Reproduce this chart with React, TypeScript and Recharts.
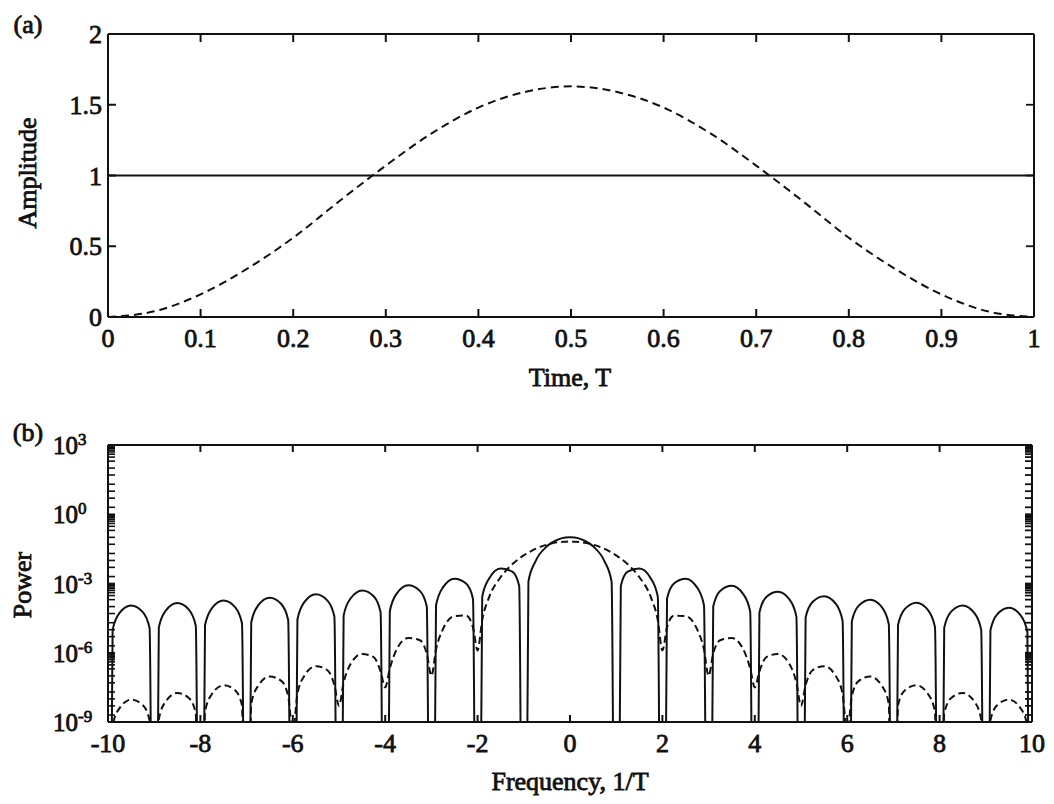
import { Line, LineChart, XAxis, YAxis } from "recharts";

// (a) window shapes over one period T
const timeT = [
  0, 0.05, 0.1, 0.15, 0.2, 0.25, 0.3, 0.35, 0.4, 0.45, 0.5, 0.55, 0.6, 0.65, 0.7,
  0.75, 0.8, 0.85, 0.9, 0.95, 1,
];
const rectAmp = [1, 1, 1, 1, 1, 1, 1, 1, 1, 1, 1, 1, 1, 1, 1, 1, 1, 1, 1, 1, 1];
const hannAmp = [
  0, 0.04, 0.16, 0.34, 0.56, 0.82, 1.07, 1.3, 1.48, 1.59, 1.63, 1.59, 1.48, 1.3,
  1.07, 0.82, 0.56, 0.34, 0.16, 0.04, 0,
];
const timeTicks = [0, 0.1, 0.2, 0.3, 0.4, 0.5, 0.6, 0.7, 0.8, 0.9, 1];
const ampTicks = [0, 0.5, 1, 1.5, 2];

// (b) power spectra, stored as powers of ten (-30 = spectral null, far below the axis)
const freq = [
  -10, -9.9, -9.75, -9.5, -9.25, -9.1,
  -9, -8.9, -8.75, -8.5, -8.25, -8.1,
  -8, -7.9, -7.75, -7.5, -7.25, -7.1,
  -7, -6.9, -6.75, -6.5, -6.25, -6.1,
  -6, -5.9, -5.75, -5.5, -5.25, -5.1,
  -5, -4.9, -4.75, -4.5, -4.25, -4.1,
  -4, -3.9, -3.75, -3.5, -3.25, -3.1,
  -3, -2.9, -2.75, -2.5, -2.25, -2.1,
  -2, -1.9, -1.75, -1.5, -1.25, -1.1,
  -1, -0.9, -0.75, -0.5, -0.25, -0.1,
  0, 0.1, 0.25, 0.5, 0.75, 0.9,
  1, 1.1, 1.25, 1.5, 1.75, 1.9,
  2, 2.1, 2.25, 2.5, 2.75, 2.9,
  3, 3.1, 3.25, 3.5, 3.75, 3.9,
  4, 4.1, 4.25, 4.5, 4.75, 4.9,
  5, 5.1, 5.25, 5.5, 5.75, 5.9,
  6, 6.1, 6.25, 6.5, 6.75, 6.9,
  7, 7.1, 7.25, 7.5, 7.75, 7.9,
  8, 8.1, 8.25, 8.5, 8.75, 8.9,
  9, 9.1, 9.25, 9.5, 9.75, 9.9,
  10,
];
const rectPowerExp = [
  -30, -5.01, -4.27, -3.95, -4.23, -4.93,
  -30, -4.91, -4.18, -3.85, -4.13, -4.83,
  -30, -4.81, -4.07, -3.74, -4.02, -4.72,
  -30, -4.69, -3.95, -3.62, -3.89, -4.58,
  -30, -4.56, -3.81, -3.47, -3.74, -4.43,
  -30, -4.39, -3.65, -3.3, -3.55, -4.24,
  -30, -4.2, -3.44, -3.08, -3.32, -4.0,
  -30, -3.94, -3.17, -2.79, -3.0, -3.66,
  -30, -3.57, -2.78, -2.35, -2.49, -3.1,
  -30, -2.92, -2.05, -1.39, -1.09, -1.01,
  -1.0, -1.01, -1.09, -1.39, -2.05, -2.92,
  -30, -3.1, -2.49, -2.35, -2.78, -3.57,
  -30, -3.66, -3.0, -2.79, -3.17, -3.94,
  -30, -4.0, -3.32, -3.1, -3.46, -4.22,
  -30, -4.26, -3.58, -3.36, -3.69, -4.43,
  -30, -4.47, -3.8, -3.55, -3.87, -4.62,
  -30, -4.64, -3.96, -3.7, -4.02, -4.76,
  -30, -4.8, -4.1, -3.83, -4.15, -4.89,
  -30, -4.92, -4.22, -3.95, -4.27, -5.0,
  -30, -5.03, -4.33, -4.05, -4.37, -5.1,
  -30,
];
const hannPowerExp = [
  -30, -9.16, -8.4, -8.03, -8.26, -8.93,
  -30, -8.88, -8.11, -7.74, -7.96, -8.63,
  -30, -8.56, -7.79, -7.41, -7.62, -8.28,
  -30, -8.21, -7.43, -7.03, -7.22, -7.88,
  -9.5, -7.79, -7.0, -6.58, -6.76, -7.4,
  -8.3, -7.29, -6.49, -6.05, -6.19, -6.81,
  -7.5, -6.68, -5.85, -5.36, -5.46, -6.04,
  -7.0, -5.86, -4.98, -4.41, -4.39, -4.9,
  -5.9, -4.58, -3.59, -2.72, -2.17, -1.92,
  -1.78, -1.66, -1.5, -1.32, -1.21, -1.19,
  -1.18, -1.19, -1.21, -1.32, -1.5, -1.66,
  -1.78, -1.92, -2.17, -2.72, -3.59, -4.58,
  -5.9, -4.9, -4.39, -4.41, -4.98, -5.86,
  -7.0, -6.04, -5.46, -5.36, -5.85, -6.68,
  -7.5, -6.81, -6.19, -6.05, -6.49, -7.29,
  -8.3, -7.4, -6.76, -6.58, -7.0, -7.79,
  -9.5, -7.88, -7.22, -7.03, -7.43, -8.21,
  -30, -8.28, -7.62, -7.41, -7.79, -8.56,
  -30, -8.63, -7.96, -7.74, -8.11, -8.88,
  -30, -8.93, -8.26, -8.03, -8.4, -9.16,
  -30,
];
const freqTicks = [-10, -8, -6, -4, -2, 0, 2, 4, 6, 8, 10];
const powerLabelExp = [3, 0, -3, -6, -9];

const timeRows = timeT.map((t, i) => ({ t, rect: rectAmp[i], hann: hannAmp[i] }));
const freqRows = freq.map((f, i) => ({ f, rect: rectPowerExp[i], hann: hannPowerExp[i] }));

// log-axis tick marks: every decade, 2x and 5x, plus a full set of minor ticks
// under each labelled decade
const powerTicks: number[] = [];
for (let d = -9; d <= 3; d++) {
  powerTicks.push(d);
  if (d < 3) powerTicks.push(d + Math.log10(2), d + Math.log10(5));
}
powerLabelExp.forEach((e) => {
  if (e > -9) [3, 4, 6, 7, 8, 9].forEach((m) => powerTicks.push(e - 1 + Math.log10(m)));
});
powerTicks.sort((a, b) => a - b);

const serif = "'Liberation Serif', 'Times New Roman', Times, serif";
const ink = "#111";
const textStyle = { fontFamily: serif, fontSize: 26, fill: ink, stroke: ink, strokeWidth: 0.8 };
const frame = { stroke: ink, strokeWidth: 2 };

const bottomTick = (len: number) => (p: any) => (
  <g>
    <line x1={p.x} y1={p.y - 1} x2={p.x} y2={p.y - len} stroke={ink} strokeWidth={2} />
    <text x={p.x} y={p.y + 30} textAnchor="middle" {...textStyle}>
      {String(p.payload.value)}
    </text>
  </g>
);
const topTick = (len: number) => (p: any) => (
  <line x1={p.x} y1={p.y} x2={p.x} y2={p.y + len} stroke={ink} strokeWidth={2} />
);
const rightTick = (len: number) => (p: any) => (
  <line x1={p.x} y1={p.y} x2={p.x - len} y2={p.y} stroke={ink} strokeWidth={1.8} />
);
const ampTick = (p: any) => (
  <g>
    <line x1={p.x} y1={p.y} x2={p.x + 8} y2={p.y} stroke={ink} strokeWidth={2} />
    <text x={p.x - 6} y={p.y + 9} textAnchor="end" {...textStyle}>
      {String(p.payload.value)}
    </text>
  </g>
);
const powerTick = (p: any) => {
  const v = p.payload.value;
  const lab = powerLabelExp.find((e) => Math.abs(e - v) < 1e-6);
  return (
    <g>
      <line x1={p.x} y1={p.y} x2={p.x + 7} y2={p.y} stroke={ink} strokeWidth={1.6} />
      {lab !== undefined && (
        <text x={53} y={p.y + 9} textAnchor="start" {...textStyle} fontSize={25}>
          10
          <tspan fontSize={17} dy={-9}>
            {String(lab)}
          </tspan>
        </text>
      )}
    </g>
  );
};

function Caption({ x, y, text, rotate }: { x: number; y: number; text: string; rotate?: boolean }) {
  return (
    <div
      style={{
        position: "absolute",
        left: x,
        top: y,
        transform: `translate(-50%, -50%)${rotate ? " rotate(-90deg)" : ""}`,
        fontFamily: serif,
        fontSize: 26,
        color: ink,
        WebkitTextStroke: "0.8px #111",
        whiteSpace: "nowrap",
        lineHeight: 1,
      }}
    >
      {text}
    </div>
  );
}

const axisBits = {
  tickSize: 0,
  tickMargin: 0,
  tickLine: false,
  axisLine: frame,
  interval: 0 as const,
  type: "number" as const,
  allowDataOverflow: true,
};

export default function App() {
  return (
    <div style={{ position: "absolute", left: 0, top: 0, width: 1054, height: 804, background: "#fff" }}>
      <div style={{ position: "absolute", left: 0, top: 0 }}>
        <LineChart width={1054} height={400} data={timeRows} margin={{ top: 33, right: 19, bottom: 82, left: 107 }}>
          <XAxis dataKey="t" domain={[0, 1]} ticks={timeTicks} height={1} tick={bottomTick(8)} {...axisBits} />
          <XAxis
            xAxisId="top"
            dataKey="t"
            orientation="top"
            domain={[0, 1]}
            ticks={timeTicks}
            height={1}
            tick={topTick(8)}
            {...axisBits}
          />
          <YAxis domain={[0, 2]} ticks={ampTicks} width={1} tick={ampTick} {...axisBits} />
          <YAxis
            yAxisId="right"
            dataKey="hann"
            orientation="right"
            domain={[0, 2]}
            ticks={ampTicks}
            width={1}
            tick={rightTick(8)}
            {...axisBits}
          />
          <Line dataKey="rect" type="linear" stroke={ink} strokeWidth={2} dot={false} activeDot={false} isAnimationActive={false} />
          <Line
            dataKey="hann"
            type="monotone"
            stroke={ink}
            strokeWidth={2}
            strokeDasharray="8 5"
            dot={false}
            activeDot={false}
            isAnimationActive={false}
          />
        </LineChart>
      </div>

      <div style={{ position: "absolute", left: 0, top: 400 }}>
        <LineChart width={1054} height={404} data={freqRows} margin={{ top: 44, right: 21, bottom: 81, left: 107 }}>
          <XAxis dataKey="f" domain={[-10, 10]} ticks={freqTicks} height={1} tick={bottomTick(7)} {...axisBits} />
          <XAxis
            xAxisId="top"
            dataKey="f"
            orientation="top"
            domain={[-10, 10]}
            ticks={freqTicks}
            height={1}
            tick={topTick(7)}
            {...axisBits}
          />
          <YAxis domain={[-9, 3]} ticks={powerTicks} width={1} tick={powerTick} {...axisBits} />
          <YAxis
            yAxisId="right"
            dataKey="rect"
            orientation="right"
            domain={[-9, 3]}
            ticks={powerTicks}
            width={1}
            tick={rightTick(7)}
            {...axisBits}
          />
          <Line dataKey="rect" type="monotone" stroke={ink} strokeWidth={2} dot={false} activeDot={false} isAnimationActive={false} />
          <Line
            dataKey="hann"
            type="monotone"
            stroke={ink}
            strokeWidth={2}
            strokeDasharray="7 4"
            dot={false}
            activeDot={false}
            isAnimationActive={false}
          />
        </LineChart>
      </div>

      <Caption x={28} y={25} text="(a)" />
      <Caption x={28} y={173} text="Amplitude" rotate />
      <Caption x={570} y={378} text="Time, T" />
      <Caption x={28} y={433} text="(b)" />
      <Caption x={23} y={585} text="Power" rotate />
      <Caption x={570} y={782} text="Frequency, 1/T" />
    </div>
  );
}
